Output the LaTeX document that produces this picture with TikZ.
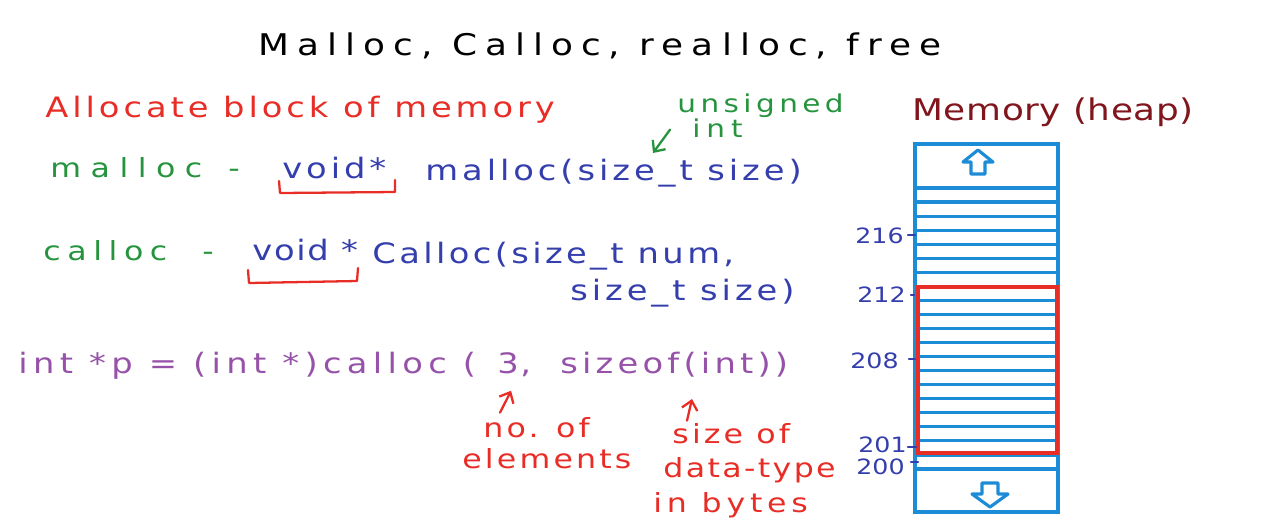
\documentclass[tikz,border=0pt]{standalone}
\usepackage{fontspec}
\usetikzlibrary{arrows.meta,calc}
\newfontfamily\hand[FakeStretch=1.2]{DejaVu Sans}
\newcommand\hw[2]{\hand\addfontfeatures{LetterSpace=#2}\fontsize{#1}{#1}\selectfont}
\definecolor{inkred}{RGB}{232,45,38}
\definecolor{inkgreen}{RGB}{38,148,62}
\definecolor{inkblue}{RGB}{52,62,172}
\definecolor{inkpurple}{RGB}{150,82,168}
\definecolor{inkmaroon}{RGB}{128,22,28}
\definecolor{cellblue}{RGB}{28,140,214}

\begin{document}
\begin{tikzpicture}[x=0.02cm,y=-0.02cm,
    every node/.style={inner sep=0pt,anchor=base west},
    head/.style={font=\hw{17}{27},text=black},
    redink/.style={font=\hw{16}{14},text=inkred},
    greenink/.style={font=\hw{15}{30},text=inkgreen},
    blueink/.style={font=\hw{16}{14},text=inkblue},
    purpink/.style={font=\hw{16}{15},text=inkpurple},
    notered/.style={font=\hw{15}{12},text=inkred},
    addr/.style={font=\hw{12}{0},text=inkblue},
    pen/.style={line width=1.3pt,line cap=round,line join=round},
    ptr/.style={pen,-{Straight Barb[length=5pt,width=9pt]}},
    cell/.style={cellblue,line width=1.8pt}]
    \useasboundingbox (0,0) rectangle (1270,525);

    \node[head] (title) at (258,55) {Malloc, Calloc, realloc, free};

    \node[redink] (alloc) at (45,117) {Allocate block of memory};
    \node[greenink,font=\hw{14}{18}] (unsig) at (677,112) {unsigned};
    \node[greenink,font=\hw{14}{24}] (intnote) at (692,137) {int};
    \coordinate (sztip) at (653,153);
    \draw[ptr,inkgreen] ($(intnote.west)+(-22,2)$) -- (sztip);

    \node[greenink,font=\hw{15}{36}] (mname) at (50,177) {malloc};
    \node[greenink] (mdash) at (228,177) {-};
    \node[blueink] (mret) at (282,178) {void*};
    \node[blueink] (msig) at (425,180) {malloc(size\_t size)};
    \draw[pen,inkred] (279,181) -- (280,193) -- (395,192) -- (395,180);

    \node[greenink,font=\hw{15}{25}] (cname) at (43,260) {calloc};
    \node[greenink] (cdash) at (202,260) {-};
    \node[blueink,font=\hw{16}{6}] (cret) at (252,260) {void *};
    \node[blueink,font=\hw{16}{12}] (csig) at (372,263) {Calloc(size\_t num,};
    \node[blueink] (csig2) at (570,300) {size\_t size)};
    \draw[pen,inkred] (248,270) -- (249,283) -- (357,281) -- (358,268);

    \node[purpink,font=\hw{16}{19}] (call) at (18,373) {int *p = (int *)calloc (};
    \node[purpink] (cnum) at (497,373) {3};
    \node[purpink] (ccomma) at (520,373) {,};
    \node[purpink] (csize) at (560,373) {sizeof(int))};

    \node[notered] (nel1) at (483,437) {no. of};
    \node[notered] (nel2) at (462,468) {elements};
    \node[notered] (sz1) at (672,443) {size of};
    \node[notered,font=\hw{15}{9}] (sz2) at (663,477) {data-type};
    \node[notered,font=\hw{15}{18}] (sz3) at (653,512) {in bytes};
    \coordinate (sizetip) at (692,399);
    \draw[ptr,inkred] ($(nel1.north west)+(17,-4)$) -- ($(cnum.south)+(3,17)$);
    \draw[ptr,inkred] ($(sz1.north west)+(15,-2)$) -- (sizetip);

    \node[font=\hw{17}{2},text=inkmaroon] (memlbl) at (912,120) {Memory (heap)};
    \draw[cell] (915,144) rectangle (1058,512);
    \foreach \i in {0,...,20} {
      \draw[cell] (915,{188+14.05*\i}) -- (1058,{188+14.05*\i});
    }
    \draw[cell,line join=round] (971,174) -- (985,174) -- (985,162) -- (993,162)
      -- (978,150) -- (963,162) -- (971,162) -- cycle;
    \draw[cell,line join=round] (982,483) -- (998,483) -- (998,494) -- (1008,494)
      -- (990,507) -- (972,494) -- (982,494) -- cycle;
    \draw[inkred,line width=2.3pt] (918,287) rectangle (1057,453);

    \node[addr] (a216) at (855,243) {216};
    \node[addr] (a212) at (857,302) {212};
    \node[addr] (a208) at (850,368) {208};
    \node[addr] (a201) at (858,452) {201};
    \node[addr] (a200) at (856,474) {200};
    \draw[pen,inkblue] (908,235) -- (915,235);
    \draw[pen,inkblue] (911,295) -- (914,295);
    \draw[pen,inkblue] (909,359) -- (915,359);
    \draw[pen,inkblue] (908,447) -- (916,447);
    \draw[pen,inkblue] (911,462) -- (918,462);
  \end{tikzpicture}
\end{document}
